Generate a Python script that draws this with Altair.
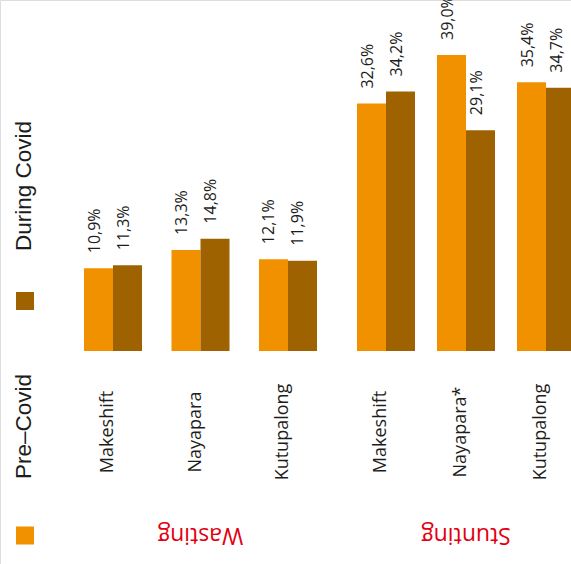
import altair as alt
import pandas as pd

# Child nutrition indicators by camp, before and during Covid
indicators = ["Wasting", "Wasting", "Wasting", "Stunting", "Stunting", "Stunting"]
locations = ["Makeshift", "Nayapara", "Kutupalong", "Makeshift", "Nayapara*", "Kutupalong"]
pre_covid = [10.9, 13.3, 12.1, 32.6, 39.0, 35.4]
during_covid = [11.3, 14.8, 11.9, 34.2, 29.1, 34.7]

periods = ["Pre\u2013Covid", "During Covid"]
period_colors = ["#F29100", "#9E6300"]
group_color = "#E3000F"
text_color = "#1D1D1B"
body_font = "Open Sans"
legend_font = "Liberation Sans"


def pct(v):
    return f"{v:.1f}".replace(".", ",") + "%"


rows = []
for ind, loc, pre, dur in zip(indicators, locations, pre_covid, during_covid):
    for per, val in zip(periods, (pre, dur)):
        rows.append({"indicator": ind, "location": loc, "period": per,
                     "value": val, "label": pct(val)})
df = pd.DataFrame(rows)

y_scale = alt.Scale(domain=[0, 39], range=[351, 55], nice=False, zero=True)
color_scale = alt.Scale(domain=periods, range=period_colors)

# Horizontal placement of the two indicator groups (band ranges in pixels)
group_layout = {
    "Wasting": {"range": [84, 317], "pad": 0.337},
    "Stunting": {"range": [357, 575], "pad": 0.275},
}


def indicator_panel(ind):
    locs = [l for i, l in zip(indicators, locations) if i == ind]
    lay = group_layout[ind]
    base = alt.Chart(df).transform_filter(alt.datum.indicator == ind)
    x = alt.X("location:N", sort=locs, axis=None,
              scale=alt.Scale(range=lay["range"], paddingInner=lay["pad"],
                              paddingOuter=0))
    xoff = alt.XOffset("period:N", sort=periods,
                       scale=alt.Scale(domain=periods, paddingInner=0, paddingOuter=0))
    y = alt.Y("value:Q", scale=y_scale, axis=None)

    bars = base.mark_bar().encode(
        x=x, xOffset=xoff, y=y,
        color=alt.Color("period:N", scale=color_scale, legend=None),
    )
    values = base.mark_text(
        angle=270, align="left", baseline="alphabetic", dx=15, dy=1,
        font=body_font, fontSize=16, color=text_color,
    ).encode(x=x, xOffset=xoff, y=y, text="label:N")

    names = base.transform_filter(alt.datum.period == periods[0]).mark_text(
        angle=270, align="center", baseline="alphabetic",
        font=body_font, fontSize=18, color=text_color,
    ).encode(x=x, y=alt.value(432), text="location:N")

    title = base.transform_filter(
        (alt.datum.period == periods[0]) & (alt.datum.location == locs[1])
    ).mark_text(
        angle=180, align="center", baseline="middle",
        font=body_font, fontSize=23, color=group_color,
    ).encode(x=x, y=alt.value(535), text="indicator:N")

    return alt.layer(bars, values, names, title)


# Rotated legend along the left edge
legend_df = pd.DataFrame({"period": periods})
legend_y = alt.Y("period:N", axis=None,
                 scale=alt.Scale(domain=periods, range=[535.5, 301], padding=0))
swatches = alt.Chart(legend_df).mark_square(size=324, opacity=1).encode(
    x=alt.value(25), y=legend_y,
    color=alt.Color("period:N", scale=color_scale, legend=None),
)
legend_text_y = alt.Y("period:N", axis=None,
                      scale=alt.Scale(domain=periods, range=[426.5, 186], padding=0))
legend_labels = alt.Chart(legend_df).mark_text(
    angle=270, align="center", baseline="alphabetic",
    font=legend_font, fontSize=22.5, color=text_color,
).encode(x=alt.value(31), y=legend_text_y, text="period:N")

chart = alt.layer(
    indicator_panel("Wasting"),
    indicator_panel("Stunting"),
    alt.layer(swatches, legend_labels).resolve_scale(y="independent"),
).resolve_scale(
    x="independent", xOffset="independent", y="independent"
).properties(
    width=571, height=564, padding=0,
    autosize=alt.AutoSizeParams(type="none"),
).configure_view(stroke=None).configure(background="white")

chart.save("out.html", embed_options={"renderer": "svg", "actions": False})
